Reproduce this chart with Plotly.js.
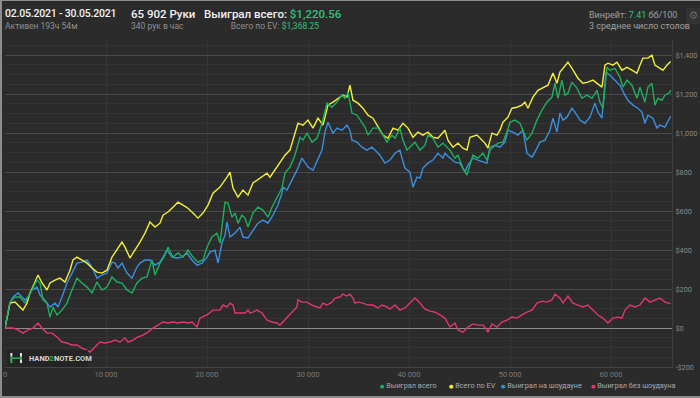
<!DOCTYPE html>
<html>
<head>
<meta charset="utf-8">
<script src="https://cdn.plot.ly/plotly-3.0.1.min.js"></script>
<style>
  html, body { margin:0; padding:0; background:#2b2b2b; }
  #wrap { position:relative; width:700px; height:398px; overflow:hidden; background:#2b2b2b; font-family: Roboto, "Noto Sans", sans-serif; box-sizing:border-box; border-top:1px solid #8d8d8d; border-left:2px solid #8d8d8d; border-bottom:2px solid #8d8d8d; }
  #chart { position:absolute; left:-2px; top:-1px; width:700px; height:398px; }
  .t { position:absolute; white-space:nowrap; line-height:1; }
  .big { font-size:11.5px; color:#f2f2f2; font-weight:500; }
  .small { font-size:8.5px; color:#8f8f8f; }
  .g { color:#2fc27a; }
  #gear { position:absolute; left:684px; top:7px; width:15px; height:16px; background:#333; border-radius:2px; color:#666; font-size:11px; text-align:center; line-height:16px; font-family:"DejaVu Sans"; }
</style>
</head>
<body>
<div id="wrap">
  <div id="chart"></div>
  <div class="t big" style="left:3px; top:8px; font-size:10.5px; letter-spacing:-0.2px;">02.05.2021 - 30.05.2021</div>
  <div class="t small" style="left:3px; top:21px;">Активен 193ч 54м</div>
  <div class="t big" style="left:129px; top:8px;">65 902 Руки</div>
  <div class="t small" style="left:129px; top:21px;">340 рук в час</div>
  <div class="t big" style="left:202px; top:8px;">Выиграл всего: <span class="g">$1,220.56</span></div>
  <div class="t small" style="right:381px; top:21px;">Всего по EV: <span class="g">$1,368.25</span></div>
  <div class="t small" style="left:587px; top:10px; font-size:9px; color:#a0a0a0;">Винрейт: <span class="g">7.41</span> бб/100</div>
  <div class="t small" style="left:587px; top:21px; font-size:9px; color:#a0a0a0;">3 среднее число столов</div>
  <div id="gear">⚙</div>
</div>
<script>
// ---- data (hands, dollars) ----
const evHands = [0,495,990,1485,1782,2178,2475,2970,3267,3663,4158,4455,4950,5445,5940,6435,6732,7128,7623,8118,8613,9108,9603,10098,10593,11088,11583,11880,12375,12672,13068,13365,13860,14355,14850,15345,15642,16137,16632,17127,17622,18117,18612,19107,19602,20097,20592,21285,21978,22275,22572,23067,23562,24057,24552,25245,25938,26235,26730,27225,27720,28215,28512,29007,29502,29997,30492,30987,31482,31977,32472,32967,33462,33858,34155,34452,34947,35442,35937,36432,36927,37422,37917,38412,38907,39402,39897,40392,40887,41382,41877,42372,42867,43362,43560,43857,44352,44847,45342,45738,46035,46728,47223,47520,47817,48213,48708,49005,49302,49797,50193,50688,51183,51480,51777,52272,52767,53262,53757,54252,54648,54945,55440,55737,56133,56430,56727,57222,57717,58212,58608,59103,59400,59697,60192,60588,61083,61578,62073,62568,62865,63162,63657,64053,64350,64845,65142,65538,65902];
const evWon = [0,128,133,108,92,128,180,236,272,231,195,231,246,256,236,297,349,364,349,333,308,287,282,297,364,400,441,415,359,385,415,441,487,544,518,538,579,595,620,646,631,615,590,564,590,631,692,723,774,800,718,672,708,682,744,769,795,774,810,846,887,913,964,1051,1041,1067,1026,1077,1041,1144,1159,1179,1195,1185,1246,1169,1154,1128,1092,1077,1031,990,974,1026,1015,1051,1026,979,1005,990,1005,979,974,1005,1015,964,928,949,923,913,979,990,964,949,923,1000,990,1015,1056,1082,1128,1133,1144,1159,1128,1185,1220,1231,1246,1308,1256,1313,1349,1364,1333,1308,1282,1256,1262,1272,1256,1236,1349,1359,1349,1364,1323,1338,1323,1308,1349,1385,1385,1400,1349,1333,1323,1349,1368];

const totalHands = [0,495,990,1485,1980,2277,2772,3168,3465,3762,4158,4455,4752,5148,5643,6138,6633,7128,7623,8118,8613,9108,9603,10098,10593,11088,11583,12078,12573,13068,13563,14058,14553,14850,15345,15840,16137,16632,17127,17622,18117,18612,19107,19602,19998,20493,20988,21285,21780,22077,22473,22770,23067,23463,23760,24057,24552,25047,25542,26037,26433,26928,27423,27720,28215,28710,29205,29502,29898,30393,30888,31383,31878,32373,32868,33363,33660,33957,34353,34848,35145,35640,35937,36432,36927,37422,37818,38313,38610,39105,39402,39798,40293,40590,41085,41580,41877,42372,42867,43362,44055,44550,44847,45342,45738,46035,46332,46827,47322,47718,48015,48312,48807,49302,49698,49995,50490,50985,51282,51678,52173,52668,53163,53658,54153,54450,54747,55143,55440,55737,56133,56628,57123,57618,58113,58608,58905,59202,59598,59895,60390,60885,61182,61578,62073,62568,62865,63360,63657,64053,64350,64647,65043,65340,65835,65902];
const totalWon = [0,133,159,159,128,159,205,246,231,144,128,56,108,67,92,128,195,256,231,210,180,236,195,210,262,236,231,195,180,231,256,262,349,272,333,374,415,364,385,364,400,364,338,349,415,467,487,436,646,641,569,590,538,579,564,518,590,620,605,569,620,672,718,795,826,887,979,964,1000,954,974,1051,1154,1133,1159,1195,1179,1210,1103,1092,1067,1031,990,1026,1026,990,954,990,974,1026,964,913,938,954,913,938,990,974,928,949,913,872,887,821,785,836,887,872,897,862,913,928,949,954,1005,1056,1067,1051,1015,964,1000,1067,1118,1159,1185,1256,1179,1272,1195,1205,1262,1231,1179,1195,1179,1220,1159,1128,1338,1323,1333,1287,1236,1272,1246,1179,1236,1159,1236,1256,1144,1179,1169,1195,1210,1221];

const sdHands = [0,495,792,1287,1683,1980,2277,2673,3168,3465,3762,4158,4455,4950,5247,5643,6138,6633,7128,7623,8118,8613,9108,9603,10098,10593,10890,11187,11583,12078,12573,13068,13365,13860,14355,14850,15345,15642,16038,16533,17028,17523,18018,18513,19008,19503,19998,20295,20790,21087,21483,21780,21978,22275,22770,23265,23562,24057,24552,25047,25542,26037,26532,27027,27423,27522,27918,28413,28908,29403,29700,29997,30492,30987,31383,31680,31977,32472,32868,33363,33858,34155,34353,34848,35343,35838,36333,36630,37125,37620,38115,38610,39105,39303,39600,40095,40392,40788,41085,41382,41877,42372,42867,43362,43560,44055,44550,45045,45540,45837,46332,46827,47322,47718,48015,48510,49005,49500,49797,50292,50787,51282,51678,52173,52470,52965,53460,53955,54252,54648,54945,55242,55638,56133,56430,56925,57420,57915,58410,58707,59103,59499,59895,60390,60885,61380,61677,62172,62667,63063,63360,63657,64152,64548,64845,65340,65835,65902];
const sdWon = [0,128,159,180,159,144,159,195,210,169,154,128,108,128,108,159,231,282,333,338,349,313,256,272,282,338,333,308,333,282,256,313,333,349,349,323,338,364,400,364,359,364,385,349,323,333,364,390,400,333,436,477,544,467,487,518,467,462,503,538,554,538,579,631,692,723,708,759,810,872,851,826,810,872,913,1005,1056,1000,1026,1015,1041,1015,964,954,928,913,928,913,887,846,862,897,913,872,821,800,723,774,769,821,846,862,897,872,897,872,851,846,800,836,872,862,851,846,928,938,928,954,1015,1005,990,1015,897,877,903,954,964,1015,1077,1005,1103,1067,1082,1128,1108,1067,1051,1082,1154,1108,1077,1313,1297,1272,1246,1195,1169,1144,1128,1108,1051,1092,1077,1026,1041,1031,1077,1087];

const nsdHands = [0,297,792,1287,1782,2277,2772,3267,3663,4158,4653,5148,5643,6138,6633,7128,7623,8118,8415,8910,9405,9900,10395,10890,11385,11880,12177,12672,13167,13662,14157,14652,15147,15642,16137,16632,17127,17622,18117,18513,19008,19305,19998,20592,21285,21582,21978,22275,22572,22770,23265,23760,24057,24255,24552,24948,25443,25938,26433,26928,27225,27720,28215,28512,28908,29007,29403,29898,30393,30888,31185,31482,31878,32373,32670,33165,33462,33858,34155,34452,34650,34947,35442,35937,36432,36927,37323,37818,38115,38610,39105,39600,40095,40590,41085,41580,42075,42570,43065,43560,44055,44550,44847,45342,45837,46332,46827,47322,47718,47817,48213,48708,49203,49698,50193,50688,51183,51678,52173,52668,53163,53658,54153,54450,54945,55242,55737,56232,56727,57222,57717,58212,58707,59202,59697,60192,60687,61083,61380,61875,62370,62865,63360,63855,64350,64845,65340,65835,65902];
const nsdWon = [0,0,0,-10,-26,-10,0,26,0,-26,-26,-46,-72,-77,-87,-87,-103,-113,-123,-97,-72,-77,-72,-62,-72,-51,-72,-62,-46,-36,-21,0,15,31,26,31,26,31,26,31,5,51,67,92,92,118,108,128,118,77,77,77,92,77,82,92,77,41,31,26,15,41,67,82,108,144,133,133,118,108,103,128,118,133,154,159,174,164,174,154,128,133,128,118,118,103,118,108,97,118,92,103,128,154,128,97,87,82,67,51,5,26,-10,-21,5,21,15,15,-10,-21,21,5,31,41,56,51,67,82,92,128,138,133,144,174,154,128,164,128,118,108,118,92,67,51,26,51,56,51,92,118,108,118,154,133,144,154,133,128,125];

const seriesNames = ['Выиграл всего', 'Всего по EV', 'Выиграл на шоудауне', 'Выиграл без шоудауна'];
const seriesColors = ['#1fae5e', '#f2ef3a', '#3a8fe0', '#e0376f'];

const xTickVals = [0, 10000, 20000, 30000, 40000, 50000, 60000];
const xTickText = ['0', '10 000', '20 000', '30 000', '40 000', '50 000', '60 000'];
const yTickVals = [-200, 0, 200, 400, 600, 800, 1000, 1200, 1400];
const yTickText = ['-$200', '$0', '$200', '$400', '$600', '$800', '$1,000', '$1,200', '$1,400'];

const seriesX = [totalHands, evHands, sdHands, nsdHands];
const seriesY = [totalWon, evWon, sdWon, nsdWon];
const drawOrder = [3, 2, 1, 0];

const traces = drawOrder.map(i => ({
  type: 'scatter', mode: 'lines', name: seriesNames[i],
  x: seriesX[i], y: seriesY[i],
  line: {color: seriesColors[i], width: 1.4},
  showlegend: false, hoverinfo: 'skip'
}));

// legend as annotations (dot + label) placed below plot at right
const legendX = [0.559, 0.663, 0.741, 0.876];
const annotations = seriesNames.map((n, i) => ({
  xref: 'paper', yref: 'paper', x: legendX[i], y: -0.058, xanchor: 'left', yanchor: 'middle',
  showarrow: false,
  text: '<span style="color:' + seriesColors[i] + ';font-size:5px">●</span> ' + n,
  font: {family: 'Roboto, "DejaVu Sans", sans-serif', size: 7.3, color: '#a8a8a8'}
}));
annotations.push({
  xref: 'paper', yref: 'paper', x: 0.033, y: 0.027, xanchor: 'left', yanchor: 'middle', showarrow: false,
  text: '<b>HAND<span style="color:#2db34a">2</span>NOTE.COM</b>',
  font: {family: 'Roboto, sans-serif', size: 7.5, color: '#d8d8d8'}
});

const shapes = [
  {type: 'rect', xref: 'paper', yref: 'paper', x0: 0.003, x1: 0.124, y0: 0.0, y1: 0.052, fillcolor: '#242424', line: {width: 0}, layer: 'above'},
  {type: 'line', xref: 'paper', yref: 'paper', x0: 0.0095, x1: 0.0095, y0: 0.012, y1: 0.032, line: {color: '#2db34a', width: 2}},
  {type: 'line', xref: 'paper', yref: 'paper', x0: 0.0095, x1: 0.0095, y0: 0.032, y1: 0.043, line: {color: '#e0e0e0', width: 2}},
  {type: 'line', xref: 'paper', yref: 'paper', x0: 0.0095, x1: 0.024, y0: 0.027, y1: 0.027, line: {color: '#2db34a', width: 1.5}},
  {type: 'line', xref: 'paper', yref: 'paper', x0: 0.024, x1: 0.024, y0: 0.012, y1: 0.043, line: {color: '#e0e0e0', width: 2}},
  {type: 'line', xref: 'paper', yref: 'paper', x0: 0.024, x1: 0.024, y0: 0.022, y1: 0.032, line: {color: '#2db34a', width: 2}}
];

const layout = {
  width: 700, height: 398,
  margin: {l: 5, r: 28, t: 40, b: 31, pad: 0},
  paper_bgcolor: 'rgba(0,0,0,0)', plot_bgcolor: '#2b2b2b',
  font: {family: 'Roboto, "Noto Sans", sans-serif', color: '#888'},
  showlegend: false,
  xaxis: {
    range: [0, 66040], tickvals: xTickVals, ticktext: xTickText,
    tickfont: {size: 7.5, color: '#7a7a7a'},
    showgrid: true, gridcolor: '#363636', gridwidth: 1,
    zeroline: false, showline: true, linecolor: '#444', linewidth: 1,
    ticks: '', fixedrange: true
  },
  yaxis: {
    range: [-200, 1478], side: 'right', tickvals: yTickVals, ticktext: yTickText,
    tickfont: {size: 7.3, color: '#8a8a8a'},
    showgrid: true, gridcolor: '#4a4a4a', gridwidth: 1,
    minor: {dtick: 50, tick0: 0, showgrid: true, gridcolor: '#343434', gridwidth: 1},
    zeroline: true, zerolinecolor: '#8c8c8c', zerolinewidth: 1,
    showline: true, linecolor: '#3e3e3e', linewidth: 1, mirror: false,
    ticks: '', ticklabelstandoff: 1, fixedrange: true
  },
  annotations: annotations,
  shapes: shapes
};

Plotly.newPlot('chart', traces, layout, {displayModeBar: false, staticPlot: true});
</script>
</body>
</html>
